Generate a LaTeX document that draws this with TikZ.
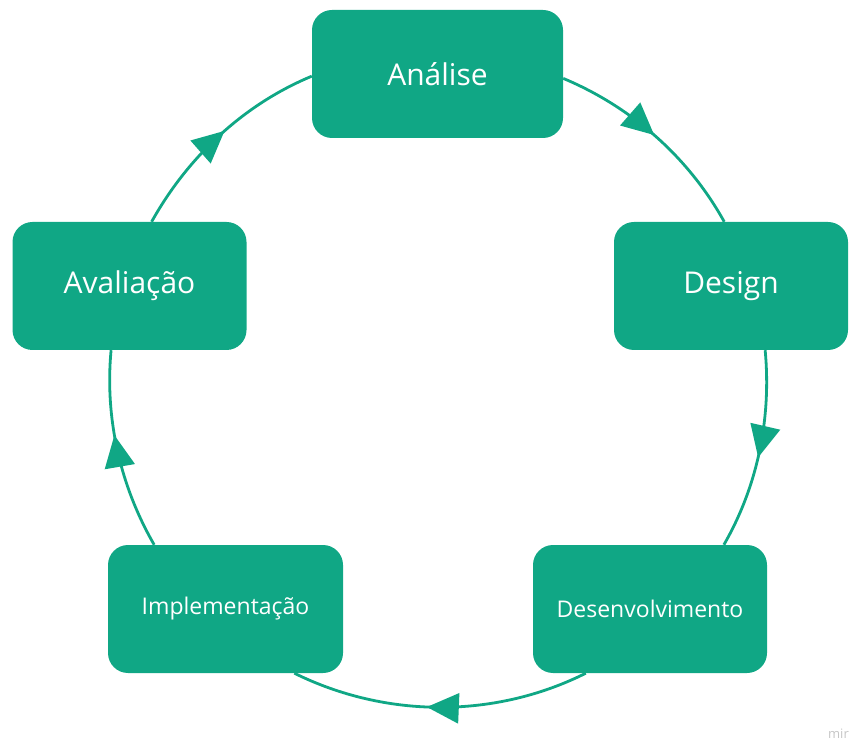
\documentclass[tikz,border=0pt]{standalone}
\usepackage{fontspec}
\setmainfont{Open Sans}
\usetikzlibrary{arrows.meta,decorations.markings}
\definecolor{tealbox}{RGB}{16,167,133}
\begin{document}
\begin{tikzpicture}[x=1pt,y=1pt,
  box/.style={fill=tealbox, rounded corners=20pt, minimum height=128pt, text=white, inner sep=0pt},
  bigtxt/.style={font=\fontsize{30}{36}\selectfont},
  smalltxt/.style={font=\fontsize{23}{28}\selectfont},
  conn/.style={draw=tealbox, line width=2.8pt},
  midarrow/.style={postaction={decorate}, decoration={markings, mark=at position #1 with {\arrow[tealbox]{Triangle[length=32pt,width=30pt]}}}}]
\useasboundingbox (0,0) rectangle (851,742);
\node[box, bigtxt, minimum width=251pt] (anl) at (437.5,668) {Análise};
\node[box, bigtxt, minimum width=234pt] (des) at (731,456) {Design};
\node[box, smalltxt, minimum width=234pt] (dev) at (650,133) {Desenvolvimento};
\node[box, smalltxt, minimum width=235pt] (imp) at (225.5,133) {Implementação};
\node[box, bigtxt, minimum width=234pt] (ava) at (129.5,456) {Avaliação};
\draw[conn, midarrow=0.49] (anl.-2) to[out=-22.7, in=119, looseness=0.876] (des.96);
\draw[conn, midarrow=0.534] (des.-62.7) to[out=-84.6, in=60, looseness=0.872] (dev.41.8);
\draw[conn, midarrow=0.544] (dev.-135.7) to[out=-153.4, in=-26.3, looseness=0.898] (imp.-43.8);
\draw[conn, midarrow=0.579] (imp.138.4) to[out=120, in=264.6, looseness=0.872] (ava.-106.1);
\draw[conn, midarrow=0.531] (ava.71.5) to[out=60.9, in=202.5, looseness=0.876] (anl.181.8);
\node[anchor=base east, text=gray!45, font=\fontsize{13}{15}\selectfont, inner sep=0pt] (wm) at (849,4) {mir};
\end{tikzpicture}
\end{document}
